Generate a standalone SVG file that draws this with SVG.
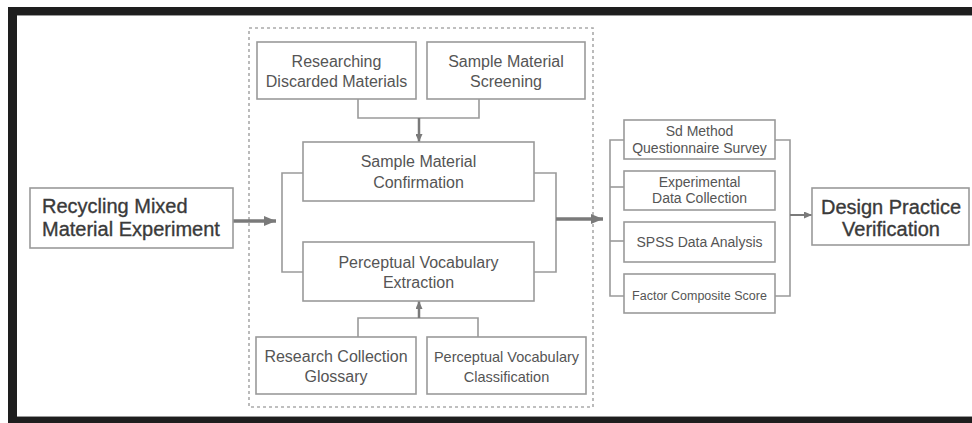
<svg xmlns="http://www.w3.org/2000/svg" width="972" height="423" viewBox="0 0 972 423">
<defs>
<style>
.box{fill:#fff;stroke:#9a9a9a;stroke-width:1.6}
.ln{fill:none;stroke:#9a9a9a;stroke-width:1.6}
.t{font-family:"Liberation Sans",Arial,sans-serif;fill:#555;text-anchor:middle}
.big{font-family:"Liberation Sans",Arial,sans-serif;fill:#3a3a3a;stroke:#3a3a3a;stroke-width:0.35;font-size:20px}
.arr{fill:none;stroke:#7a7a7a}
</style>
<marker id="ah" markerUnits="userSpaceOnUse" markerWidth="12" markerHeight="10" refX="12" refY="5" orient="auto">
<path d="M0,0 L12,5 L0,10 z" fill="#7a7a7a"/>
</marker>
<marker id="ahs" markerUnits="userSpaceOnUse" markerWidth="8" markerHeight="7" refX="8" refY="3.5" orient="auto">
<path d="M0,0 L8,3.5 L0,7 z" fill="#7a7a7a"/>
</marker>
</defs>
<rect x="0" y="0" width="972" height="423" fill="#fff"/>
<g id="frame">
<rect x="8" y="7" width="964" height="8" fill="#1e1e1e"/>
<rect x="8" y="7" width="9" height="416" fill="#1e1e1e"/>
<rect x="8" y="417" width="964" height="6" fill="#1e1e1e"/>
<line x1="17" y1="15.5" x2="972" y2="15.5" stroke="#999" stroke-width="1"/>
<line x1="17" y1="416.5" x2="972" y2="416.5" stroke="#999" stroke-width="1"/>
</g>
<g id="container">
<rect x="249" y="28" width="344" height="379" fill="none" stroke="#aaa" stroke-width="1.6" stroke-dasharray="3,3"/>
</g>
<g id="connectors">
<polyline class="ln" points="358,99 358,118 479,118 479,99"/>
<line class="arr" x1="419" y1="118" x2="419" y2="142" stroke-width="2.5" marker-end="url(#ahs)"/>
<polyline class="ln" points="303,173 282,173 282,272 303,272"/>
<polyline class="ln" points="534,173 556,173 556,272 534,272"/>
<polyline class="ln" points="358,337 358,318 478,318 478,337"/>
<line class="arr" x1="419" y1="318" x2="419" y2="301" stroke-width="2.5" marker-end="url(#ahs)"/>
<line class="arr" x1="233" y1="221" x2="276" y2="221" stroke-width="3.5" marker-end="url(#ah)"/>
<line class="arr" x1="556" y1="219" x2="603" y2="219" stroke-width="3.5" marker-end="url(#ah)"/>
<polyline class="ln" points="624,140 610,140 610,296 624,296"/>
<line class="ln" x1="610" y1="187" x2="624" y2="187"/>
<line class="ln" x1="610" y1="241" x2="624" y2="241"/>
<polyline class="ln" points="775,140 790,140 790,296 775,296"/>
<line class="arr" x1="790" y1="215" x2="812" y2="215" stroke-width="2" marker-end="url(#ahs)"/>
</g>
<g id="recycling">
<rect class="box" x="30" y="188" width="203" height="60"/>
<text class="big" x="42" y="213">Recycling Mixed</text>
<text class="big" x="42" y="236">Material Experiment</text>
</g>
<g id="researching">
<rect class="box" x="257" y="42" width="159" height="57"/>
<text class="t" font-size="16" x="336.5" y="67">Researching</text>
<text class="t" font-size="16" x="336.5" y="87">Discarded Materials</text>
</g>
<g id="screening">
<rect class="box" x="427" y="42" width="158" height="57"/>
<text class="t" font-size="16" x="506" y="67">Sample Material</text>
<text class="t" font-size="16" x="506" y="87">Screening</text>
</g>
<g id="confirmation">
<rect class="box" x="303" y="142" width="231" height="59"/>
<text class="t" font-size="16" x="418.5" y="167">Sample Material</text>
<text class="t" font-size="16" x="418.5" y="188">Confirmation</text>
</g>
<g id="extraction">
<rect class="box" x="303" y="242" width="231" height="59"/>
<text class="t" font-size="16" x="418.5" y="268">Perceptual Vocabulary</text>
<text class="t" font-size="16" x="418.5" y="288">Extraction</text>
</g>
<g id="glossary">
<rect class="box" x="256" y="337" width="160" height="57"/>
<text class="t" font-size="16" x="336" y="362">Research Collection</text>
<text class="t" font-size="16" x="336" y="382">Glossary</text>
</g>
<g id="classification">
<rect class="box" x="427" y="337" width="159" height="57"/>
<text class="t" font-size="14.5" x="506.5" y="362">Perceptual Vocabulary</text>
<text class="t" font-size="14.5" x="506.5" y="382">Classification</text>
</g>
<g id="sd-method">
<rect class="box" x="624" y="120" width="151" height="39"/>
<text class="t" font-size="14" x="699.5" y="136">Sd Method</text>
<text class="t" font-size="14" x="699.5" y="153">Questionnaire Survey</text>
</g>
<g id="experimental">
<rect class="box" x="624" y="171" width="151" height="39"/>
<text class="t" font-size="14" x="699.5" y="187">Experimental</text>
<text class="t" font-size="14" x="699.5" y="203">Data Collection</text>
</g>
<g id="spss">
<rect class="box" x="624" y="222" width="151" height="40"/>
<text class="t" font-size="14" x="699.5" y="247">SPSS Data Analysis</text>
</g>
<g id="factor">
<rect class="box" x="624" y="274" width="151" height="39"/>
<text class="t" font-size="12.5" x="699.5" y="300">Factor Composite Score</text>
</g>
<g id="design-practice">
<rect class="box" x="812" y="188" width="157" height="57"/>
<text class="big" text-anchor="middle" x="891" y="214">Design Practice</text>
<text class="big" text-anchor="middle" x="891" y="236">Verification</text>
</g>
</svg>
